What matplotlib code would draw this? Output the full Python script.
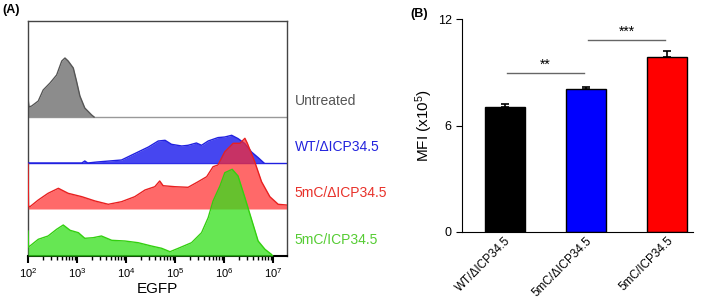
import numpy as np
import matplotlib.pyplot as plt
from matplotlib.transforms import ScaledTranslation

plt.rcParams['font.family'] = ['Liberation Sans', 'DejaVu Sans']
plt.rcParams['mathtext.fontset'] = 'custom'
plt.rcParams['mathtext.rm'] = 'Liberation Sans'
plt.rcParams['mathtext.it'] = 'Liberation Sans'

# ---- panel A: histograms (log10 EGFP, counts in arbitrary units) ----
gray_lx = [2.0, 2.02, 2.075, 2.21, 2.31, 2.45, 2.585, 2.69, 2.755, 2.82, 2.925, 2.99, 3.06, 3.16, 3.30, 3.35]
gray_h = [19, 10, 11, 16, 27, 34, 42, 56, 59, 56, 49, 36, 21, 9, 2, 0]

blue_lx = [2.0, 3.10, 3.16, 3.22, 3.41, 3.91, 4.18, 4.46, 4.66, 4.80, 4.93, 5.14, 5.27, 5.44, 5.545,
           5.68, 5.88, 6.02, 6.16, 6.29, 6.43, 6.565, 6.70, 6.82]
blue_h = [0, 0, 2, 0, 1, 3, 9.4, 16, 22, 22.7, 18.7, 17, 17.7, 20, 17.7,
          22, 25.4, 26, 27.7, 24.4, 19.4, 11, 5.4, 0]

red_lx = [2.0, 2.01, 2.04, 2.21, 2.41, 2.62, 2.82, 3.10, 3.37, 3.64, 3.91, 4.18, 4.39, 4.59, 4.69, 4.76,
          5.0, 5.27, 5.475, 5.65, 5.78, 5.88, 6.02, 6.19, 6.33, 6.43, 6.48, 6.63, 6.77, 6.94, 7.11, 7.28]
red_h = [45, 3, 2.3, 9, 15.7, 20.7, 15.7, 12.3, 8, 4.7, 7.3, 12.3, 19, 22.3, 28, 23.3,
         22.3, 21.7, 27.3, 32.3, 42.3, 44, 57.3, 65.7, 65.7, 70.7, 65.7, 47.3, 27.3, 12.3, 4.7, 4]

green_lx = [2.0, 2.01, 2.04, 2.21, 2.41, 2.585, 2.72, 2.86, 3.03, 3.16, 3.33, 3.50, 3.71, 3.98, 4.25, 4.52,
            4.73, 4.90, 5.07, 5.34, 5.545, 5.68, 5.78, 5.92, 6.02, 6.17, 6.29, 6.43, 6.565, 6.70,
            6.84, 6.97, 7.0]
green_h = [25, 9, 10, 16.7, 20, 26.7, 31, 25.7, 23.3, 17.7, 18.3, 20, 15.7, 15, 13.3, 10,
           7.7, 4.3, 7.7, 13.3, 23.3, 38.3, 55, 70, 83.3, 86.7, 80, 58.3, 36.7, 15,
           6.7, 1.7, 0]

hist_names = ['Untreated', 'WT/ΔICP34.5', '5mC/ΔICP34.5', '5mC/ICP34.5']

# ---- panel B: MFI bars ----
groups = ['WT/ΔICP34.5', '5mC/ΔICP34.5', '5mC/ICP34.5']
mfi = [7.02, 8.04, 9.85]
mfi_err = [0.17, 0.11, 0.35]
bar_colors = ['black', '#0000ff', '#ff0000']

fig = plt.figure(figsize=(7.09, 2.99), dpi=100)

# panel A
axA = fig.add_axes([28/709, 1 - 256/299, 259/709, 235/299])
base = [139, 93, 47, 0]
fills = ['#8c8c8c', '#3c3cf0', '#ff2a2a', '#33e01a']
edges = ['#555555', '#2020e0', '#e82020', '#33d010']
alphas = [1.0, 0.95, 0.7, 0.75]
text_cols = ['#555555', '#2222dd', '#e8312a', '#55cc33']
series = [(gray_lx, gray_h), (blue_lx, blue_h), (red_lx, red_h), (green_lx, green_h)]

for i, (lx, h) in enumerate(series):
    x = 10 ** np.array(lx)
    y = base[i] + np.array(h)
    axA.fill_between(x, base[i], y, color=fills[i], alpha=alphas[i], lw=0, zorder=2 + i)
    axA.plot(x, y, color=edges[i], lw=1.0, zorder=2 + i)
    if i < 2:
        axA.axhline(base[i], color=edges[i] if i == 1 else '#999999', lw=1.0, zorder=1)
    axA.text(1.03, (base[i] + 16) / 235, hist_names[i], transform=axA.transAxes,
             color=text_cols[i], fontsize=10, va='center', ha='left')

axA.set_xscale('log')
axA.set_xlim(1e2, 10 ** 7.29)
axA.set_ylim(0, 235)
axA.set_yticks([])
axA.set_xticks([1e2, 1e3, 1e4, 1e5, 1e6, 1e7])
axA.set_xticklabels([r'$10^{%d}$' % k for k in range(2, 8)])
axA.tick_params(axis='x', which='major', length=5, width=1.5, labelsize=8, direction='out', pad=2)
axA.tick_params(axis='x', which='minor', length=3, width=1.0, direction='out')
for s in axA.spines.values():
    s.set_color('#444444')
    s.set_linewidth(1.0)
axA.spines['bottom'].set_color('black')
axA.spines['bottom'].set_linewidth(1.5)
axA.set_xlabel('EGFP', fontsize=11, labelpad=2)

fig.text(2/709, 1 - 10/299, '(A)', fontsize=9, fontweight='bold', va='center')

# panel B
axB = fig.add_axes([462/709, 1 - 232/299, 231/709, 213/299])
xpos = np.arange(len(groups))
axB.bar(xpos, mfi, width=0.5, color=bar_colors, edgecolor='black', linewidth=1.0, zorder=2)
axB.errorbar(xpos, mfi, yerr=[np.zeros(len(mfi)), mfi_err], fmt='none', ecolor='black',
             elinewidth=1.2, capsize=3, capthick=1.2, zorder=1)
axB.set_xlim(-0.53, 2.32)
axB.set_ylim(0, 12)
axB.set_yticks([0, 6, 12])
axB.set_xticks(xpos)
labs = axB.set_xticklabels(groups, rotation=45, ha='right', va='top', rotation_mode='anchor', fontsize=8.5)
shift = ScaledTranslation(5/100, 0, fig.dpi_scale_trans)
for t in labs:
    t.set_transform(t.get_transform() + shift)
axB.tick_params(axis='y', labelsize=9, length=4)
axB.tick_params(axis='x', length=0, pad=2)
axB.spines['top'].set_visible(False)
axB.spines['right'].set_visible(False)
axB.set_ylabel(r'MFI (x10$^{5}$)', fontsize=11, labelpad=2)

# significance brackets
axB.plot([0.03, 0.98], [8.94, 8.94], color='#666666', lw=1.0)
axB.text(0.5, 9.0, '**', ha='center', va='bottom', fontsize=10)
axB.plot([1.02, 1.98], [10.8, 10.8], color='#666666', lw=1.0)
axB.text(1.5, 10.86, '***', ha='center', va='bottom', fontsize=10)

fig.text(410/709, 1 - 14/299, '(B)', fontsize=9, fontweight='bold', va='center')

fig.savefig('out.png', dpi=100)
